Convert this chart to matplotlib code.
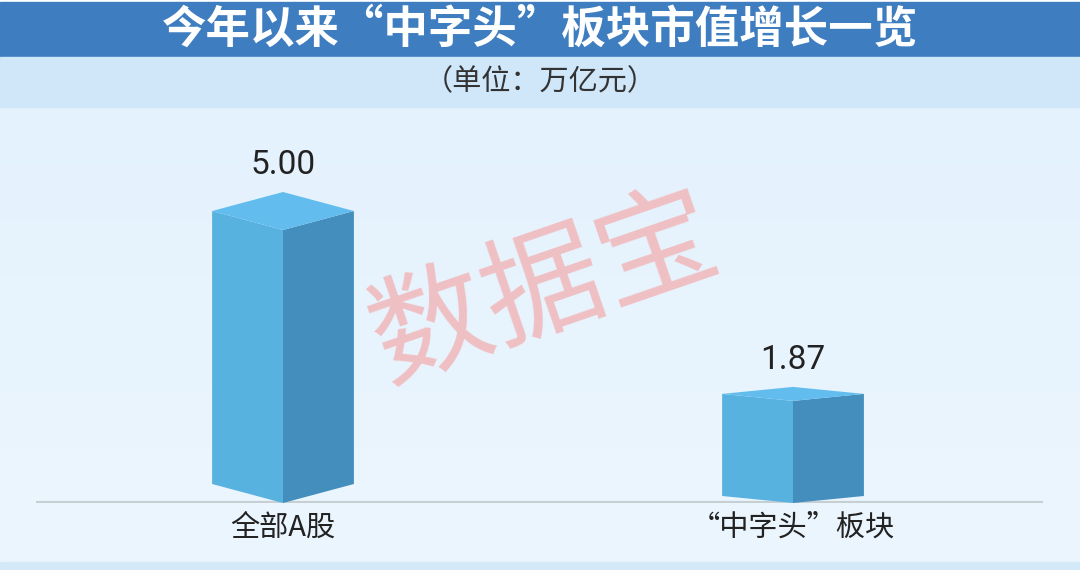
import numpy as np
import matplotlib
matplotlib.use('Agg')
from matplotlib import pyplot as plt
from matplotlib.patches import Polygon, Rectangle
from matplotlib.colors import LinearSegmentedColormap

plt.rcParams['font.family'] = ['Noto Sans CJK SC', 'DejaVu Sans']

# Data
categories = ['全部A股', '“中字头”板块']
values = [5.00, 1.87]
value_labels = ['5.00', '1.87']
title = '今年以来“中字头”板块市值增长一览'
subtitle = '（单位：万亿元）'
watermark = '数据宝'

W, H = 1080, 570
fig = plt.figure(figsize=(W / 100, H / 100), dpi=100)

# Background layer in pixel coordinates
bg = fig.add_axes([0, 0, 1, 1])
bg.set_xlim(0, W)
bg.set_ylim(H, 0)
bg.axis('off')
grad = np.linspace(0, 1, 256)[:, None]
cmap = LinearSegmentedColormap.from_list('bg', ['#e4f2fd', '#ecf6fe'])
bg.imshow(grad, extent=[0, W, 562, 107], cmap=cmap, aspect='auto', zorder=0)
bg.add_patch(Rectangle((0, 0), W, 2, color='white', zorder=1))
bg.add_patch(Rectangle((0, 2), W, 55, color='#3e7dc0', zorder=1))
bg.add_patch(Rectangle((0, 57), W, 50, color='#cfe7f9', zorder=1))
bg.add_patch(Rectangle((0, 562), W, 8, color='#d3e9f8', zorder=1))
bg.set_xlim(0, W)
bg.set_ylim(H, 0)

bg.text(W / 2, 30, title, color='white', fontsize=32, fontweight='bold',
        ha='center', va='center', zorder=3)
bg.text(W / 2, 82, subtitle, color='#333333', fontsize=21,
        ha='center', va='center', zorder=3)
bg.text(545, 290, watermark, color='#f0c0c3', fontsize=86, rotation=19,
        fontweight='light', ha='center', va='center', zorder=3)

# Chart layer: x in category units, y in value units
ax = fig.add_axes([0, 67 / H, 1, 396 / H])
ax.patch.set_alpha(0)
px_per_unit = 54.6
ax.set_xlim(-283 / 510, -283 / 510 + W / 510)
ax.set_ylim(0, 396 / px_per_unit)
ax.axis('off')

ax.plot([-0.484, 1.490], [0, 0], color='#c6d0d4', lw=3, zorder=1,
        solid_capstyle='butt')

hw = 0.139
depths = [19 / px_per_unit, 7 / px_per_unit]
for i, (v, lab, cat) in enumerate(zip(values, value_labels, categories)):
    d = depths[i]
    left = [(i - hw, d), (i, 0), (i, v), (i - hw, v + d)]
    right = [(i, 0), (i + hw, d), (i + hw, v + d), (i, v)]
    top = [(i, v), (i + hw, v + d), (i, v + 2 * d), (i - hw, v + d)]
    ax.add_patch(Polygon(left, closed=True, facecolor='#58b2e0', edgecolor='none', zorder=2))
    ax.add_patch(Polygon(right, closed=True, facecolor='#438ebd', edgecolor='none', zorder=2))
    ax.add_patch(Polygon(top, closed=True, facecolor='#62bdee', edgecolor='none', zorder=2))
    ax.annotate(lab, (i, v + 2 * d), xytext=(0, 19.5), textcoords='offset points',
                ha='center', va='center', fontsize=24, color='#222222',
                family=['Roboto', 'DejaVu Sans'])
    ax.annotate(cat, (i, 0), xytext=(0, -18), textcoords='offset points',
                ha='center', va='center', fontsize=21, color='#222222',
                annotation_clip=False)

fig.savefig('out.png', dpi=100)
